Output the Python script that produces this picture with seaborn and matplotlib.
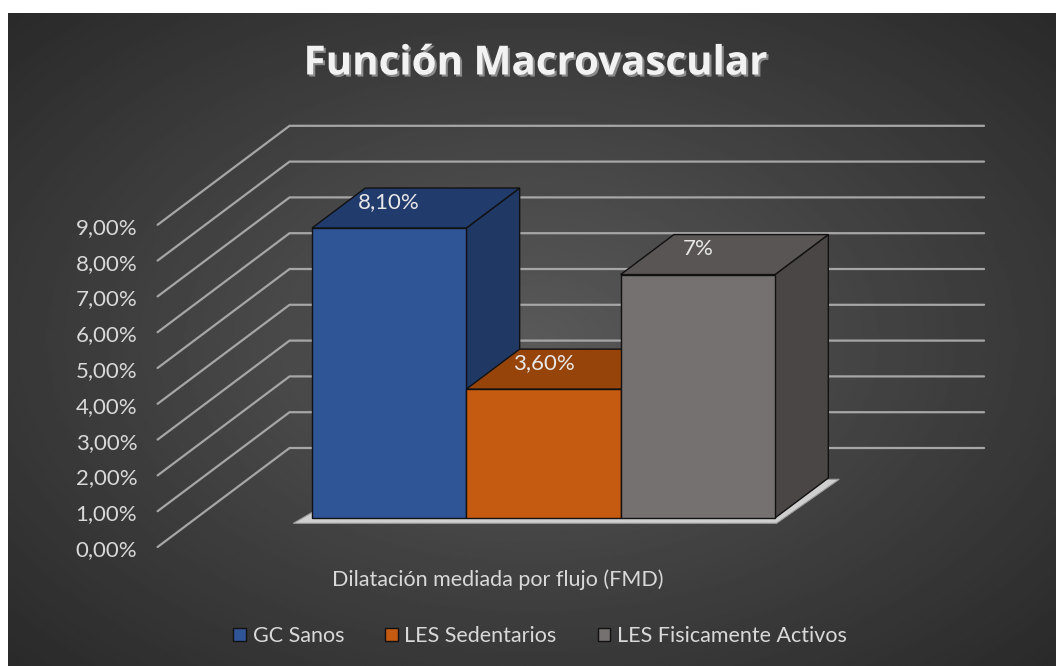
import numpy as np
import pandas as pd
import matplotlib
matplotlib.use('Agg')
import matplotlib.pyplot as plt
import matplotlib.patheffects as pe
from matplotlib.patches import Polygon
from matplotlib.ticker import FuncFormatter
import seaborn as sns

# --- datos ---
categoria = 'Dilatación mediada por flujo (FMD)'
series = ['GC Sanos', 'LES Sedentarios', 'LES Fisicamente Activos']
valores = [8.1, 3.6, 6.8]
etiquetas = ['8,10%', '3,60%', '7%']
ticks_y = [0, 1, 2, 3, 4, 5, 6, 7, 8, 9]

color_frente = ['#2F5597', '#C55A11', '#767171']
color_arriba = ['#203B6C', '#96440A', '#5A5555']
color_lado = ['#1F3864', '#843C0C', '#4A4646']

df = pd.DataFrame({'categoria': categoria, 'serie': series, 'valor': valores})

W, H = 1056, 666
sns.set_theme(style='white')
plt.rcParams['font.family'] = ['Lato', 'DejaVu Sans']
TXT = '#d9d9d9'
FS = 15.5

fig = plt.figure(figsize=(W / 100, H / 100), dpi=100, facecolor='white')

# --- fondo con degradado radial ---
ax_bg = fig.add_axes([8 / W, 0, 1 - 8 / W, (H - 13) / H])
yy, xx = np.mgrid[0:1:300j, 0:1:480j]
r = np.sqrt(((xx - 0.5) / 0.6) ** 2 + ((yy - 0.5) / 0.62) ** 2)
fondo = np.clip(0.35 - 0.16 * r, 0.15, 0.4)
ax_bg.imshow(fondo, cmap='gray', vmin=0, vmax=1, aspect='auto')
ax_bg.axis('off')

# --- eje principal (plano frontal de las barras) ---
ax = fig.add_axes([0, 0, 1, 1])
ax.patch.set_alpha(0)
PX_X, PX_Y = 578.75, 35.8       # pixeles por unidad
PROF = 40                       # profundidad de las barras (px)
Z_FRENTE, Z_FONDO = -29, 70     # paredes


def proyectar(x, y, z):
    return x + z * 1.333 / PX_X, y + z / PX_Y


sns.barplot(data=df, x='categoria', y='valor', hue='serie', palette=color_frente,
            saturation=1, edgecolor='#111111', linewidth=1, ax=ax)
barras = sorted([p for p in ax.patches if p.get_width() > 0 and p.get_height() > 0],
                key=lambda p: p.get_x())[:len(series)]

x0 = -0.4 - 312 / PX_X
y0 = -148 / PX_Y
ax.set_xlim(x0, x0 + W / PX_X)
ax.set_ylim(y0, y0 + H / PX_Y)
ax.axis('off')

# lineas de cuadricula (pared izquierda y pared del fondo)
for t in ticks_y:
    pts = [proyectar(-0.6, t, Z_FRENTE), proyectar(-0.6, t, Z_FONDO), proyectar(0.6, t, Z_FONDO)]
    ax.plot([p[0] for p in pts], [p[1] for p in pts], color='#a6a6a6', lw=1.6,
            zorder=0.5, solid_capstyle='round', solid_joinstyle='round')

# piso
xl, xr = barras[0].get_x(), barras[-1].get_x() + barras[-1].get_width()
piso = [proyectar(xl - 0.03, -0.12, -1), proyectar(xr + 0.005, -0.12, -1),
        proyectar(xr + 0.012, -0.12, PROF + 3), proyectar(xl, -0.12, PROF + 3)]
ax.add_patch(Polygon(piso, closed=True, facecolor='#cfcfcf', edgecolor='#9a9a9a',
                     lw=0.8, zorder=1))

# caras superior y lateral de cada barra
for i, p in enumerate(barras):
    xa, w, h = p.get_x(), p.get_width(), p.get_height()
    xb = xa + w
    arriba = [proyectar(xa, h, 0), proyectar(xb, h, 0), proyectar(xb, h, PROF), proyectar(xa, h, PROF)]
    lado = [proyectar(xb, 0, 0), proyectar(xb, h, 0), proyectar(xb, h, PROF), proyectar(xb, 0, PROF)]
    base = 3 + i * 3
    ax.add_patch(Polygon(lado, closed=True, facecolor=color_lado[i], edgecolor='#111111',
                         lw=1, zorder=base))
    ax.add_patch(Polygon(arriba, closed=True, facecolor=color_arriba[i], edgecolor='#111111',
                         lw=1, zorder=base + 1))
    p.set_zorder(base + 2)
    ax.text(xa + w / 2, h + 26 / PX_Y, etiquetas[i], ha='center', va='center',
            color='#e8e8e8', fontsize=16, zorder=30)

# --- eje de valores en la pared frontal ---
ax_t = fig.add_axes([158 / W, (H - 548) / H, 0.0005, (548 - 226) / H])
ax_t.patch.set_alpha(0)
ax_t.set_ylim(0, 9)
ax_t.set_yticks(ticks_y)
ax_t.yaxis.set_major_formatter(FuncFormatter(lambda v, _: f'{v:.2f}'.replace('.', ',') + '%'))
ax_t.set_xticks([])
for s in ax_t.spines.values():
    s.set_visible(False)
ax_t.tick_params(axis='y', length=0, pad=15, labelsize=16, labelcolor=TXT)

# --- textos ---
fig.text(535 / W, 1 - 64 / H, 'Función Macrovascular', ha='center', va='center',
         fontsize=29, fontweight='bold', color='#f2f2f2', family=['Open Sans', 'DejaVu Sans'],
         path_effects=[pe.SimplePatchShadow(offset=(1.5, -1.5), shadow_rgbFace='#8a8a8a', alpha=1),
                       pe.Normal()])
fig.text(498 / W, 1 - 580 / H, categoria, ha='center', va='center', fontsize=FS, color=TXT)

sns.move_legend(ax, 'center', bbox_to_anchor=(540 / W, 1 - 636 / H), ncol=3, frameon=False,
                title=None, fontsize=FS, handlelength=0.6, handleheight=0.6,
                columnspacing=1.9, handletextpad=0.3, labelcolor=TXT)
for hnd in ax.get_legend().legend_handles:
    hnd.set_edgecolor('#111111')
    hnd.set_linewidth(1)

fig.savefig('out.png', dpi=100, facecolor='white')
